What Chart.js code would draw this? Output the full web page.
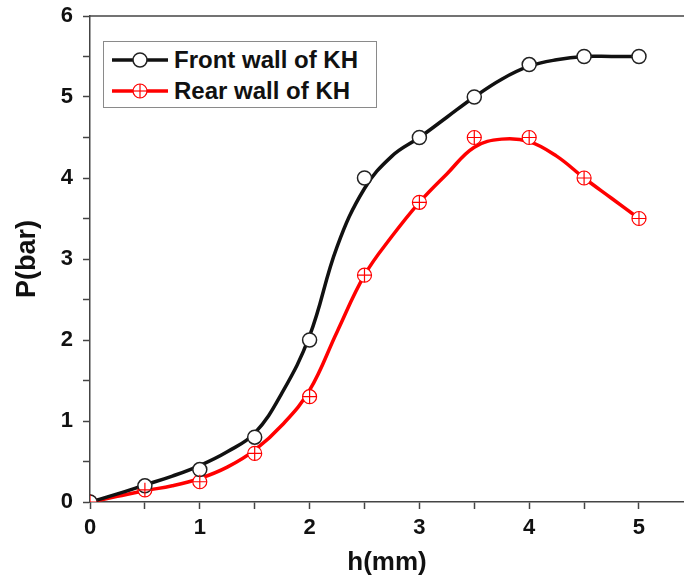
<!DOCTYPE html>
<html>
<head>
<meta charset="utf-8">
<script src="https://cdn.jsdelivr.net/npm/chart.js@4"></script>
<style>
  body { margin: 0; background: #fff; }
  #wrap { position: relative; width: 684px; height: 578px; }
  #legend {
    position: absolute; left: 103px; top: 41px; width: 272px; height: 65px;
    border: 1px solid #8a8a8a; background: #fff;
    font-family: 'Liberation Sans', Arial, sans-serif; font-weight: bold; font-size: 24px; color: #111;
  }
  #legend .row { position: absolute; left: 8px; height: 30px; display: flex; align-items: center; }
  #legend svg { margin-right: 6px; }
</style>
</head>
<body>
<div id="wrap">
  <canvas id="chart" width="684" height="578"></canvas>
  <div id="legend">
    <div class="row" style="top:3px">
      <svg width="56" height="20"><line x1="0" y1="10" x2="56" y2="10" stroke="#111" stroke-width="3.5"/><circle cx="28" cy="10" r="7" fill="#fff" stroke="#222" stroke-width="1.5"/></svg>
      <span>Front wall of KH</span>
    </div>
    <div class="row" style="top:34px">
      <svg width="56" height="20"><line x1="0" y1="10" x2="56" y2="10" stroke="#ff0000" stroke-width="3.5"/><circle cx="28" cy="10" r="7" fill="#fff" stroke="#ff0000" stroke-width="1.2"/><line x1="21" y1="10" x2="35" y2="10" stroke="#ff0000" stroke-width="1.2"/><line x1="28" y1="3" x2="28" y2="17" stroke="#ff0000" stroke-width="1.2"/></svg>
      <span>Rear wall of KH</span>
    </div>
  </div>
</div>
<script>
// measured points
const hPoints = [0, 0.5, 1, 1.5, 2, 2.5, 3, 3.5, 4, 4.5, 5];
const frontP = [0, 0.2, 0.4, 0.8, 2.0, 4.0, 4.5, 5.0, 5.4, 5.5, 5.5];
const rearP = [0, 0.15, 0.25, 0.6, 1.3, 2.8, 3.7, 4.5, 4.5, 4.0, 3.5];

// fitted curves
const hCurve = [0, 0.25, 0.5, 0.75, 1, 1.25, 1.5, 1.75, 2, 2.25, 2.5, 2.75, 3, 3.25, 3.5, 3.75, 4, 4.25, 4.5, 4.75, 5];
const frontFit = [0, 0.1, 0.21, 0.32, 0.45, 0.62, 0.85, 1.35, 2.05, 3.15, 3.87, 4.27, 4.5, 4.75, 5.0, 5.22, 5.38, 5.46, 5.5, 5.5, 5.5];
const rearFit = [0, 0.07, 0.14, 0.2, 0.29, 0.43, 0.64, 0.95, 1.38, 2.1, 2.8, 3.28, 3.7, 4.05, 4.38, 4.48, 4.45, 4.27, 4.0, 3.75, 3.5];

const toXY = (xs, ys) => xs.map((x, i) => ({ x: x, y: ys[i] }));

const axisColor = '#444';
Chart.defaults.font.family = "'Liberation Sans', Arial, sans-serif";
Chart.defaults.font.weight = 'bold';
Chart.defaults.color = '#111';

// top border of the frame
const frameTop = {
  id: 'frameTop',
  afterDraw(chart) {
    const ctx = chart.ctx, a = chart.chartArea;
    ctx.save();
    ctx.strokeStyle = axisColor;
    ctx.lineWidth = 1.5;
    ctx.beginPath();
    ctx.moveTo(a.left, a.top);
    ctx.lineTo(chart.width, a.top);
    ctx.stroke();
    ctx.restore();
  }
};

const intLabel = v => (Number.isInteger(v) ? v : '');

new Chart(document.getElementById('chart'), {
  data: {
    datasets: [
      {
        type: 'scatter', label: 'Front wall of KH', data: toXY(hPoints, frontP), order: 1,
        pointStyle: 'circle', pointRadius: 7, pointBackgroundColor: '#fff',
        pointBorderColor: '#222', pointBorderWidth: 1.5
      },
      {
        type: 'scatter', label: 'Rear wall of KH', data: toXY(hPoints, rearP), order: 2,
        pointStyle: 'circle', pointRadius: 7, pointBackgroundColor: '#fff',
        pointBorderColor: '#ff0000', pointBorderWidth: 1.2
      },
      {
        type: 'scatter', label: 'rear cross', data: toXY(hPoints, rearP), order: 0,
        pointStyle: 'cross', pointRadius: 7, pointBorderColor: '#ff0000', pointBorderWidth: 1.2
      },
      {
        type: 'line', label: 'front fit', data: toXY(hCurve, frontFit), order: 10,
        borderColor: '#111', borderWidth: 3.5, pointRadius: 0, tension: 0.4
      },
      {
        type: 'line', label: 'rear fit', data: toXY(hCurve, rearFit), order: 11,
        borderColor: '#ff0000', borderWidth: 3.5, pointRadius: 0, tension: 0.4
      }
    ]
  },
  options: {
    responsive: false,
    animation: false,
    layout: { autoPadding: false, padding: { left: 0, top: 16, right: 0, bottom: 0 } },
    plugins: { legend: { display: false }, tooltip: { enabled: false } },
    scales: {
      x: {
        type: 'linear', min: 0, max: 5.41,
        border: { color: axisColor, width: 1.5 },
        grid: { drawOnChartArea: false, tickLength: 7, tickColor: axisColor, tickWidth: 1.5 },
        ticks: { stepSize: 0.5, includeBounds: false, autoSkip: false, maxRotation: 0, padding: 6,
                 font: { size: 22, weight: 'bold' }, color: '#111', callback: intLabel },
        title: { display: true, text: 'h(mm)', font: { size: 26, weight: 'bold' }, color: '#111', padding: { top: 0, bottom: 0 } },
        afterFit(scale) { scale.height = 76; scale.paddingLeft = 0; scale.paddingRight = 0; }
      },
      y: {
        type: 'linear', min: 0, max: 6,
        border: { color: axisColor, width: 1.5 },
        grid: { drawOnChartArea: false, tickLength: 7, tickColor: axisColor, tickWidth: 1.5 },
        ticks: { stepSize: 0.5, autoSkip: false, padding: 10,
                 font: { size: 22, weight: 'bold' }, color: '#111', callback: intLabel },
        title: { display: true, text: 'P(bar)', font: { size: 27, weight: 'bold' }, color: '#111', padding: { top: 11, bottom: 0 } },
        afterFit(scale) { scale.width = 90; scale.paddingTop = 0; scale.paddingBottom = 0; }
      }
    }
  },
  plugins: [frameTop]
});
</script>
</body>
</html>
